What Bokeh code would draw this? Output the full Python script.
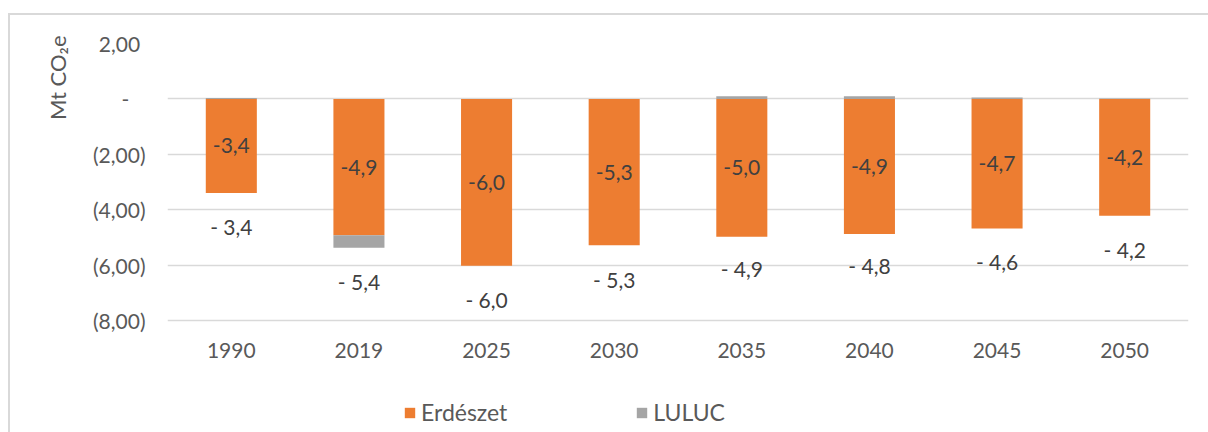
from bokeh.plotting import figure
from bokeh.models import (Range1d, FactorRange, FixedTicker, CustomJSTickFormatter,
                          Legend, LegendItem, Title, ColumnDataSource)
from bokeh.core.properties import value
from bokeh.embed import file_html
from bokeh.resources import INLINE

years = ["1990", "2019", "2025", "2030", "2035", "2040", "2045", "2050"]
erdeszet = [-3.40, -4.92, -6.02, -5.28, -4.98, -4.88, -4.68, -4.22]
luluc = [0.03, -0.45, 0.0, 0.0, 0.10, 0.10, 0.05, 0.01]
y_ticks = [-8, -6, -4, -2, 0, 2]
series_names = ["Erdészet", "LULUC"]

ORANGE = "#ED7D31"
GRAY = "#A5A5A5"
TXT = "#595959"
FONT = "Lato"
FS = "21px"

# value axis: 2,00 at the top of the plot area; the area below -8 holds the
# category labels and the legend (same scale: 277 px per 10 units)
Y_TOP = 2.0
Y_BOTTOM = -8.0 - 112 * 10 / 277


def fmt(v, sep=""):
    s = f"{abs(v):.1f}".replace(".", ",")
    return ("-" + sep + s) if v < 0 else s


totals = [round(e + l, 2) for e, l in zip(erdeszet, luluc)]
g_bottom = [0 if l >= 0 else e for e, l in zip(erdeszet, luluc)]
g_top = [l if l >= 0 else e + l for e, l in zip(erdeszet, luluc)]

src = ColumnDataSource(dict(
    x=years, erd=erdeszet, zero=[0] * len(years), gb=g_bottom, gt=g_top,
    mid=[e / 2 for e in erdeszet], lab=[fmt(e) for e in erdeszet],
    tot=totals, tlab=[fmt(t, " ") for t in totals],
))

p = figure(width=1208, height=432, x_range=FactorRange(factors=years, range_padding=0),
           y_range=Range1d(Y_BOTTOM, Y_TOP), output_backend="svg", toolbar_location=None,
           x_axis_location="above",
           min_border_left=167, min_border_right=20, min_border_top=43,
           min_border_bottom=0)
p.outline_line_color = None
p.background_fill_color = "white"
p.border_fill_alpha = 0
# outer chart-area border (only its top and left edges are visible)
p.styles = {"background": (
    "linear-gradient(#D9D9D9, #D9D9D9) 8px 13px / 2px 100% no-repeat, "
    "linear-gradient(#D9D9D9, #D9D9D9) 8px 13px / 100% 2px no-repeat, white")}

r1 = p.vbar(x="x", top="erd", bottom="zero", width=0.4, source=src,
            fill_color=ORANGE, line_color=None)
r2 = p.vbar(x="x", top="gt", bottom="gb", width=0.4, source=src,
            fill_color=GRAY, line_color=None)

p.text(x="x", y="mid", text="lab", source=src, text_align="center",
       text_baseline="middle", text_font=value(FONT), text_font_size=FS,
       text_color="#404040")
p.text(x="x", y="tot", text="tlab", source=src, text_align="center",
       text_baseline="middle", y_offset=34, text_font=value(FONT),
       text_font_size=FS, text_color="#404040")

p.xgrid.grid_line_color = None
p.ygrid.grid_line_color = "#D9D9D9"
p.ygrid.grid_line_width = 1.5
p.ygrid.ticker = FixedTicker(ticks=y_ticks)

p.yaxis.ticker = FixedTicker(ticks=y_ticks)
p.yaxis.formatter = CustomJSTickFormatter(code="""
if (Math.abs(tick) < 1e-9) return "-\u00a0\u00a0\u00a0";
const s = Math.abs(tick).toFixed(2).replace('.', ',');
return tick < 0 ? "(" + s + ")" : s + "\u00a0";
""")
for ax in (p.xaxis, p.yaxis):
    ax.axis_line_color = None
    ax.major_tick_line_color = None
    ax.minor_tick_line_color = None
    ax.major_tick_out = 0
    ax.major_tick_in = 0
    ax.minor_tick_out = 0
    ax.major_label_text_font = FONT
    ax.major_label_text_font_size = FS
    ax.major_label_text_color = TXT
p.yaxis.major_label_standoff = 22
# category axis drawn along the lowest gridline, labels below it
p.xaxis.fixed_location = min(y_ticks)
p.xaxis.major_label_standoff = -37

p.add_layout(Title(text="Mt CO\u2082e", align="right", text_font=FONT,
                   text_font_size="22px", text_color=TXT, text_font_style="normal",
                   standoff=38, offset=-8), "left")

legend = Legend(items=[LegendItem(label=series_names[0], renderers=[r1]),
                       LegendItem(label=series_names[1], renderers=[r2])],
                orientation="horizontal", location=(236, 6),
                glyph_width=13, glyph_height=13, label_standoff=5, spacing=128,
                padding=0, margin=0, label_height=20,
                label_text_font=FONT, label_text_font_size="23px",
                label_text_color=TXT, border_line_color=None,
                background_fill_alpha=0)
p.add_layout(legend, "center")

open("out.html", "w").write(file_html(p, INLINE))
